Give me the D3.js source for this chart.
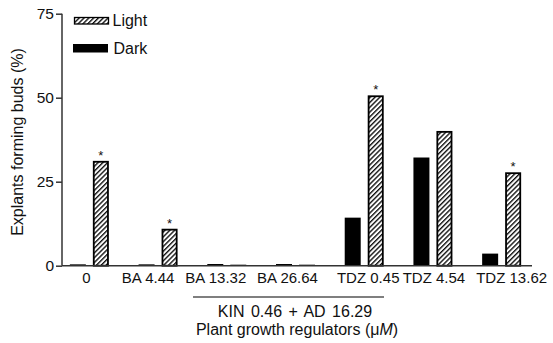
<!DOCTYPE html>
<html><head><meta charset="utf-8">
<script src="https://cdn.jsdelivr.net/npm/d3@7"></script>
<style>body{margin:0;background:#fff}text{font-family:"Liberation Sans",Arial,sans-serif;fill:#111}</style>
</head><body><svg id="c" width="553" height="343"></svg>
<script>
const categories = ["0","BA 4.44","BA 13.32","BA 26.64","TDZ 0.45","TDZ 4.54","TDZ 13.62"];
const darkValues = [0.4, 0.4, 0.5, 0.5, 14.3, 32.2, 3.6];
const lightValues = [31.2, 11.0, 0.3, 0.3, 50.7, 40.1, 27.8];
const significant = [true, true, false, false, true, false, true];
const yTicks = [0, 25, 50, 75];
const groupLabel = "KIN 0.46 + AD 16.29";
const yTitle = "Explants forming buds (%)";
// layout: horizontal nudges of the category labels (px)
const labelNudge = [-3, -10, -11, -8, 4, 1, 10];

const svg = d3.select("#c");
const defs = svg.append("defs");
const pw = 3.4;
const pat = defs.append("pattern").attr("id","hatch").attr("patternUnits","userSpaceOnUse")
  .attr("width",pw).attr("height",pw).attr("patternTransform","rotate(45)");
pat.append("rect").attr("width",pw).attr("height",pw).attr("fill","#fff");
pat.append("line").attr("x1",0.7).attr("y1",0).attr("x2",0.7).attr("y2",pw).attr("stroke","#000").attr("stroke-width",1.3);

const x = d3.scaleBand().domain(categories).range([55,536]);
const y = d3.scaleLinear().domain([0,75]).range([265.7,13.7]);
const bw = 16, gap = 7;

const g = svg.append("g");
categories.forEach((c,i)=>{
  const cx = x(c) + x.bandwidth()/2;
  const dv = darkValues[i], lv = lightValues[i];
  g.append("rect").attr("x", cx - gap/2 - bw).attr("y", y(dv)).attr("width", bw)
    .attr("height", Math.max(1.2, y(0)-y(dv))).attr("fill","#000");
  const lh = y(0)-y(lv);
  if (lh > 3) {
    g.append("rect").attr("x", cx + gap/2 + 0.9).attr("y", y(lv)+0.9).attr("width", bw-1.8)
      .attr("height", lh-0.9).attr("fill","url(#hatch)").attr("stroke","#000").attr("stroke-width",1.8);
  } else {
    g.append("rect").attr("x", cx + gap/2).attr("y", y(lv)).attr("width", bw)
      .attr("height", Math.max(1.2, lh)).attr("fill","#000");
  }
  if (significant[i]) {
    g.append("text").attr("x", cx + gap/2 + bw/2).attr("y", y(lv)-1).attr("text-anchor","middle")
      .style("font-size","13px").text("*");
  }
});

// y axis
const yAxis = d3.axisLeft(y).tickValues(yTicks).tickSize(6).tickPadding(2);
const ya = svg.append("g").attr("transform","translate(62,0)").call(yAxis);
ya.select(".domain").attr("stroke","#333").attr("stroke-width",1.5).attr("d","M0,13.7V265.7");
ya.selectAll(".tick line").attr("stroke","#333").attr("stroke-width",1.5);
ya.selectAll(".tick text").style("font-size","15.5px").attr("fill","#111");

// x axis
const xAxis = d3.axisBottom(x).tickSize(0).tickPadding(7);
const xa = svg.append("g").attr("transform","translate(0,265.7)").call(xAxis);
xa.select(".domain").attr("stroke","#333").attr("stroke-width",1.5).attr("d","M62,0H532");
xa.selectAll(".tick text").style("font-size","15px").attr("fill","#111")
  .attr("dx",(d,i)=>labelNudge[i]);

// group bracket
svg.append("line").attr("x1",193).attr("x2",384).attr("y1",297).attr("y2",297).attr("stroke","#000").attr("stroke-width",1.2);
svg.append("text").attr("x",295).attr("y",317).attr("text-anchor","middle").style("font-size","16px")
  .style("word-spacing","2px").text(groupLabel);
const xt = svg.append("text").attr("x",297).attr("y",335).attr("text-anchor","middle").style("font-size","16px");
xt.append("tspan").text("Plant growth regulators (\u03bc");
xt.append("tspan").style("font-style","italic").text("M");
xt.append("tspan").text(")");

// y title
svg.append("text").attr("transform","translate(23,142) rotate(-90)").attr("text-anchor","middle")
  .style("font-size","16px").text(yTitle);

// legend
const leg = svg.append("g");
leg.append("rect").attr("x",74.5).attr("y",17.5).attr("width",34).attr("height",6.5)
  .attr("fill","url(#hatch)").attr("stroke","#000").attr("stroke-width",1.3);
leg.append("text").attr("x",112.5).attr("y",25.5).style("font-size","16px").text("Light");
leg.append("rect").attr("x",73).attr("y",44).attr("width",35).attr("height",8.5).attr("fill","#000");
leg.append("text").attr("x",113.5).attr("y",53.5).style("font-size","16px").text("Dark");
</script></body></html>
